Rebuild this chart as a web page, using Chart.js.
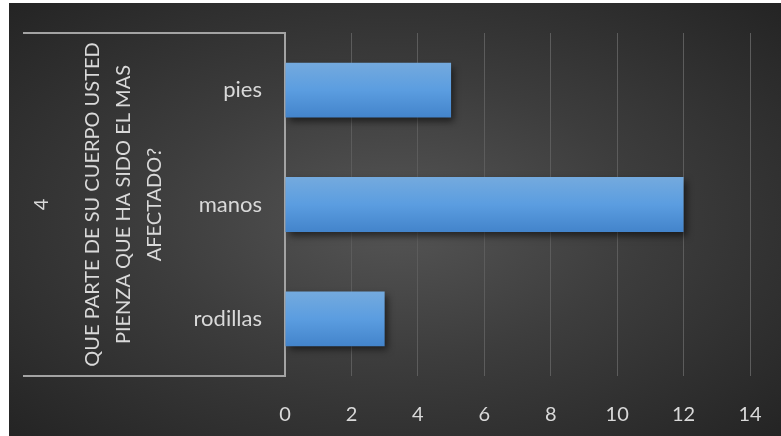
<!DOCTYPE html>
<html>
<head>
<meta charset="utf-8">
<script src="https://cdn.jsdelivr.net/npm/chart.js@4/dist/chart.umd.min.js"></script>
<style>
  html, body { margin: 0; padding: 0; background: #fff; }
  #wrap {
    position: absolute; left: 9px; top: 3px; width: 772px; height: 433px;
    background: radial-gradient(ellipse farthest-corner at 50% 50%, #555555 0%, #3d3d3d 45%, #242424 100%);
  }
</style>
</head>
<body>
<div id="wrap"><canvas id="chart"></canvas></div>
<script>
// answers for question 4
var categories = ['pies', 'manos', 'rodillas'];
var counts = [5, 12, 3];
var xTicks = [0, 2, 4, 6, 8, 10, 12, 14];
var groupNumber = '4';
var groupLines = ['QUE PARTE DE SU CUERPO USTED', 'PIENZA QUE HA SIDO EL MAS', 'AFECTADO?'];

var FONT = 'Lato, "Open Sans", sans-serif';
var TEXT = '#d9d9d9';
var BAR_FRACTION = 0.8 * 0.6;

// vertical blue gradient for each bar, spanning its own thickness
function barFill(ctx) {
    var chart = ctx.chart, area = chart.chartArea;
    if (!area) return '#5b9bd5';
    var y = chart.scales.y.getPixelForValue(ctx.dataIndex);
    var half = (area.bottom - area.top) / categories.length * BAR_FRACTION / 2;
    var g = chart.ctx.createLinearGradient(0, y - half, 0, y + half);
    g.addColorStop(0, '#74aade');
    g.addColorStop(0.5, '#5b9de0');
    g.addColorStop(1, '#4384cb');
    return g;
}

// soft drop shadow under the bars
var barShadow = {
    id: 'barShadow',
    beforeDatasetsDraw: function(chart) {
        var c = chart.ctx;
        c.save();
        c.shadowColor = 'rgba(0,0,0,0.55)';
        c.shadowBlur = 7;
        c.shadowOffsetX = 3;
        c.shadowOffsetY = 4;
    },
    afterDatasetsDraw: function(chart) {
        chart.ctx.restore();
    }
};

// outer category level: bracket lines plus rotated question text
var groupLabel = {
    id: 'groupLabel',
    afterDraw: function(chart) {
        var c = chart.ctx, a = chart.chartArea;
        var left = 14, mid = (a.top + a.bottom) / 2;
        c.save();
        c.strokeStyle = '#a3a3a3';
        c.lineWidth = 2;
        c.beginPath();
        c.moveTo(left, a.top); c.lineTo(a.left, a.top);
        c.moveTo(left, a.bottom); c.lineTo(a.left, a.bottom);
        c.stroke();

        c.fillStyle = TEXT;
        c.font = '20px ' + FONT;
        c.textAlign = 'center';
        c.textBaseline = 'middle';
        var xs = [left + 19, left + 70, left + 101, left + 132];
        var texts = [groupNumber].concat(groupLines);
        texts.forEach(function(t, i) {
            c.save();
            c.translate(xs[i], mid);
            c.rotate(-Math.PI / 2);
            c.fillText(t, 0, 0);
            c.restore();
        });
        c.restore();
    }
};

new Chart(document.getElementById('chart'), {
    type: 'bar',
    data: {
        labels: categories,
        datasets: [{
            data: counts,
            backgroundColor: barFill,
            borderWidth: 0,
            categoryPercentage: 0.8,
            barPercentage: 0.6
        }]
    },
    options: {
        indexAxis: 'y',
        responsive: true,
        maintainAspectRatio: false,
        animation: false,
        layout: { padding: { left: 14, top: 30, right: 31, bottom: 0 } },
        plugins: {
            legend: { display: false },
            tooltip: { enabled: false }
        },
        scales: {
            x: {
                min: 0,
                max: 14,
                afterBuildTicks: function(scale) {
                    scale.ticks = xTicks.map(function(v) { return { value: v }; });
                },
                afterFit: function(scale) {
                    scale.height = 60;
                    scale.paddingLeft = 0;
                    scale.paddingRight = 0;
                },
                grid: {
                    color: function(ctx) { return ctx.index === 0 ? 'rgba(0,0,0,0)' : '#5c5c5c'; },
                    lineWidth: 1,
                    drawTicks: false
                },
                border: { display: false },
                ticks: { color: TEXT, font: { family: FONT, size: 20 }, padding: 27 }
            },
            y: {
                afterFit: function(scale) {
                    scale.width = 262;
                    scale.paddingTop = 0;
                    scale.paddingBottom = 0;
                },
                grid: { display: false, drawTicks: false },
                border: { display: true, color: '#a3a3a3', width: 2 },
                ticks: { color: TEXT, font: { family: FONT, size: 22 }, padding: 23 }
            }
        }
    },
    plugins: [barShadow, groupLabel]
});
</script>
</body>
</html>
